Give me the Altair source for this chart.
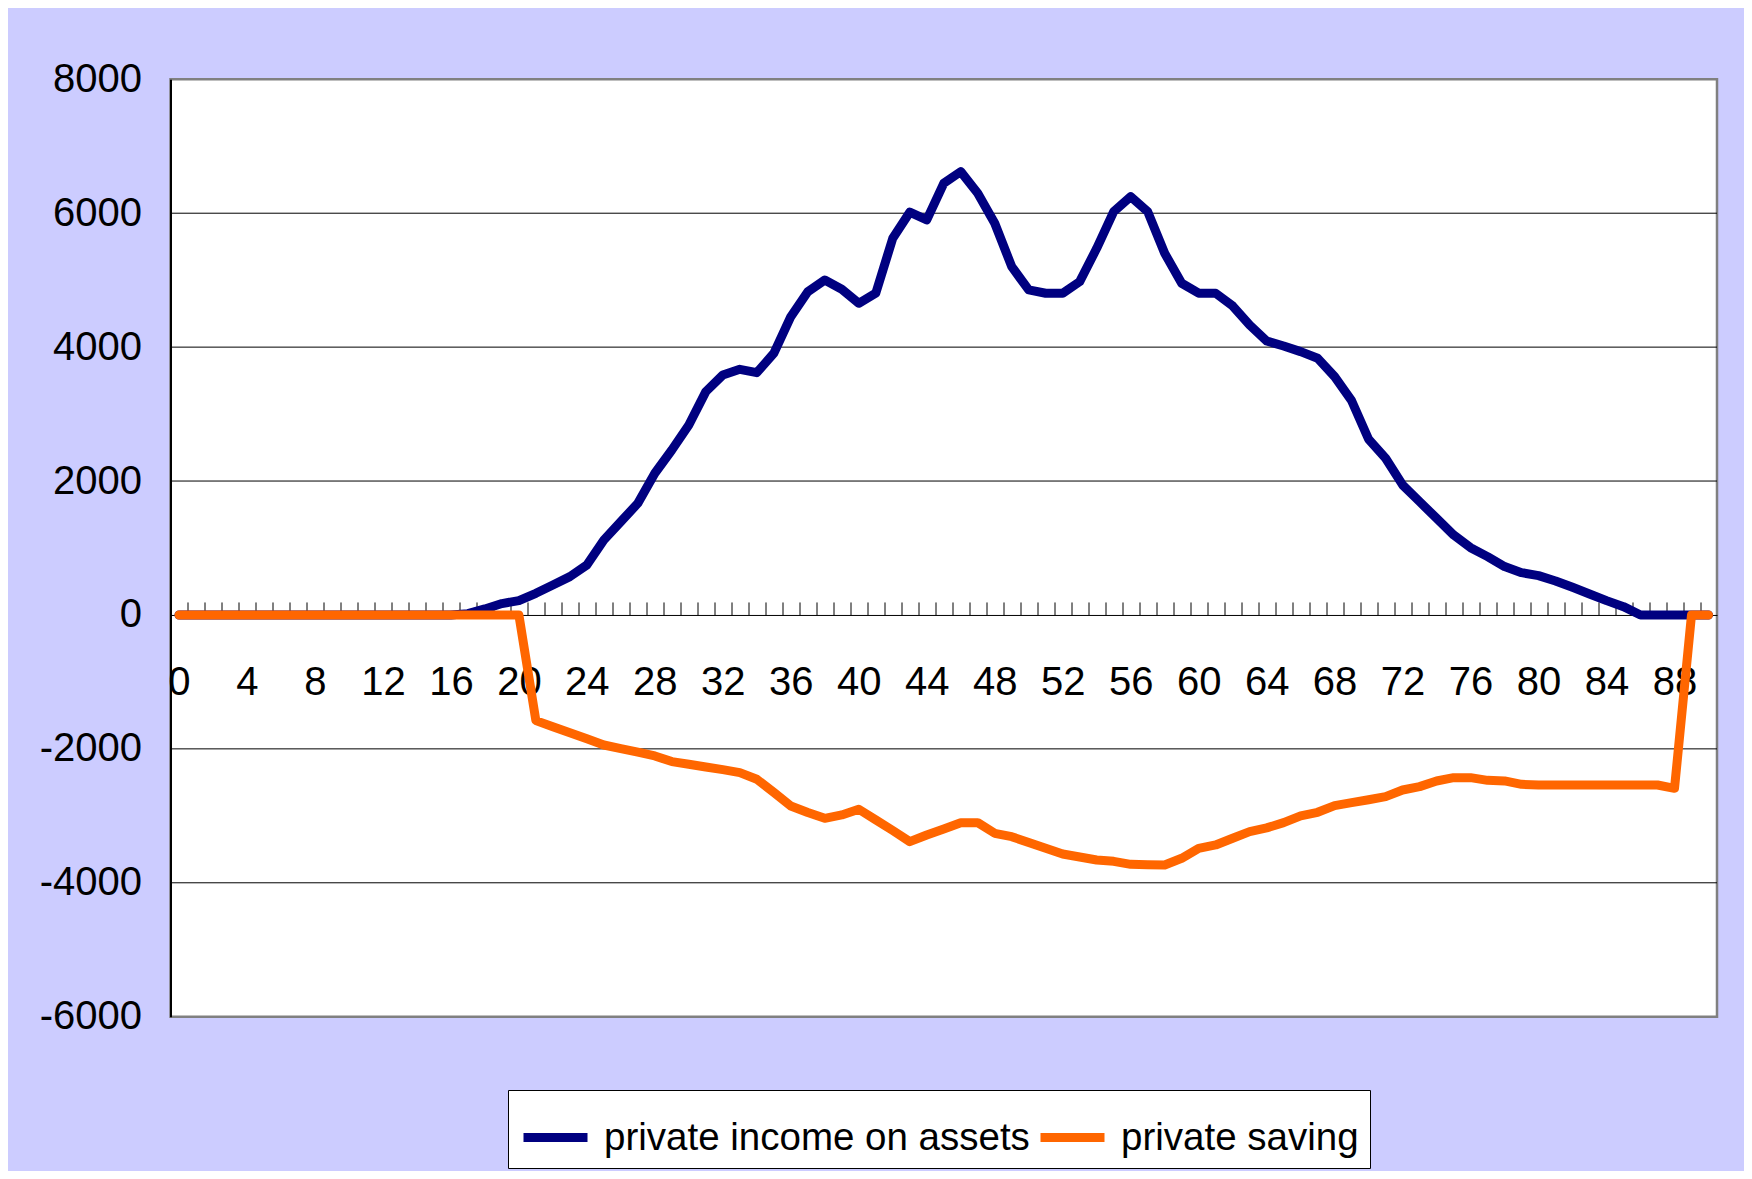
import altair as alt
import pandas as pd

ages = list(range(0, 91))

income = [0, 0, 0, 0, 0, 0, 0, 0, 0, 0, 0, 0, 0, 0, 0, 0, 0,
          20, 90, 170, 214, 324, 448, 572, 747, 1120, 1394, 1668, 2116, 2464,
          2838, 3335, 3584, 3669, 3619, 3908, 4455, 4828, 5003, 4864,
          4655, 4805, 5626, 6015, 5900, 6447, 6621, 6298, 5850, 5202,
          4854, 4805, 4805, 4978, 5476, 6024, 6248, 6024, 5402, 4954,
          4805, 4805, 4615, 4331, 4092, 4017, 3933, 3834, 3559, 3200,
          2625, 2340, 1942, 1692, 1444, 1195, 1005, 871, 722, 632,
          587, 508, 413, 314, 214, 124, 0, 0, 0, 0, 0]

saving = [0, 0, 0, 0, 0, 0, 0, 0, 0, 0, 0, 0, 0, 0, 0, 0, 0, 0, 0, 0, 0,
          -1578, -1670, -1760, -1850, -1942, -1995, -2050, -2106, -2190,
          -2230, -2270, -2310, -2355, -2454, -2650, -2853, -2950, -3037, -2987,
          -2902, -3060, -3220, -3385, -3286, -3196, -3102, -3102, -3261, -3311,
          -3400, -3485, -3570, -3615, -3659, -3680, -3725, -3730, -3734, -3634,
          -3485, -3435, -3335, -3236, -3180, -3102, -3000, -2947, -2848, -2803,
          -2760, -2714, -2614, -2564, -2480, -2430, -2430, -2470, -2479, -2530,
          -2539, -2539, -2539, -2539, -2539, -2539, -2539, -2539, -2589, 0, 0]

series_names = ["private income on assets", "private saving"]
series_colors = ["#000080", "#FF6600"]

x_label_values = [0, 4, 8, 12, 16, 20, 24, 28, 32, 36, 40, 44, 48, 52, 56, 60, 64, 68, 72, 76, 80, 84, 88]
x_tick_values = [a + 0.5 for a in range(0, 90)]
y_label_values = [-6000, -4000, -2000, 0, 2000, 4000, 6000, 8000]
grid_values = [-4000, -2000, 2000, 4000, 6000]

df = pd.DataFrame({
    "age": ages + ages,
    "value": income + saving,
    "series": [series_names[0]] * len(ages) + [series_names[1]] * len(ages),
})
grid_df = pd.DataFrame({"value": grid_values})

FONT = "Liberation Sans, Arial, sans-serif"
W, H = 1546.5, 937.4
zero_from_top = H * 4 / 7
zero_from_bottom = H * 3 / 7

xscale = alt.Scale(domain=[-0.5, 90.5], nice=False, zero=False)
yscale = alt.Scale(domain=[-6000, 8000], nice=False, zero=False)

y_axis = alt.Axis(values=y_label_values, labelExpr="'' + datum.value", grid=False, ticks=False,
                  domainColor="#000000", domainWidth=2, labelPadding=29,
                  labelFontSize=40, labelFont=FONT, labelColor="#000000", title=None)

grid = alt.Chart(grid_df).mark_rule(color="#000000", strokeWidth=1).encode(
    y=alt.Y("value:Q", scale=yscale, axis=y_axis)
)

ticks = alt.Chart(df).mark_point(opacity=0).encode(
    x=alt.X("age:Q", scale=xscale,
            axis=alt.Axis(orient="top", offset=-zero_from_top, values=x_tick_values,
                          labels=False, domain=False, grid=False, ticks=True,
                          tickSize=13, tickColor="#000000", tickWidth=1, title=None)),
    y=alt.Y("value:Q", scale=yscale, axis=y_axis),
)

lines = alt.Chart(df).mark_line(strokeWidth=9, strokeCap="round", strokeJoin="round").encode(
    x=alt.X("age:Q", scale=xscale,
            axis=alt.Axis(orient="bottom", offset=-zero_from_bottom, values=x_label_values,
                          ticks=False, grid=False, domainColor="#000000", domainWidth=1,
                          labelPadding=48, labelFontSize=40, labelFont=FONT, labelColor="#000000",
                          labelOverlap=False, labelFlush=False, title=None)),
    y=alt.Y("value:Q", scale=yscale, axis=y_axis),
    color=alt.Color("series:N", scale=alt.Scale(domain=series_names, range=series_colors),
                    legend=alt.Legend(title=None, orient="none", legendX=337.5, legendY=1010.7,
                                      direction="horizontal", fillColor="white", strokeColor="#000000",
                                      padding=11, symbolType="stroke", symbolSize=4096,
                                      symbolStrokeWidth=9, labelFont=FONT, labelFontSize=38.5,
                                      labelColor="#000000", labelLimit=2000, columnPadding=-8,
                                      labelOffset=12)),
)

chart = alt.layer(grid, ticks, lines).resolve_axis(x="independent").properties(
    width=W, height=H,
    padding={"left": 162.5, "top": 71.3, "right": 27, "bottom": 154.3},
    autosize=alt.AutoSizeParams(type="none"),
    background="#CCCCFF",
).configure_view(fill="white", stroke="#808080", strokeWidth=2.5)

chart.save("out.html", embed_options={"renderer": "svg", "actions": False})
